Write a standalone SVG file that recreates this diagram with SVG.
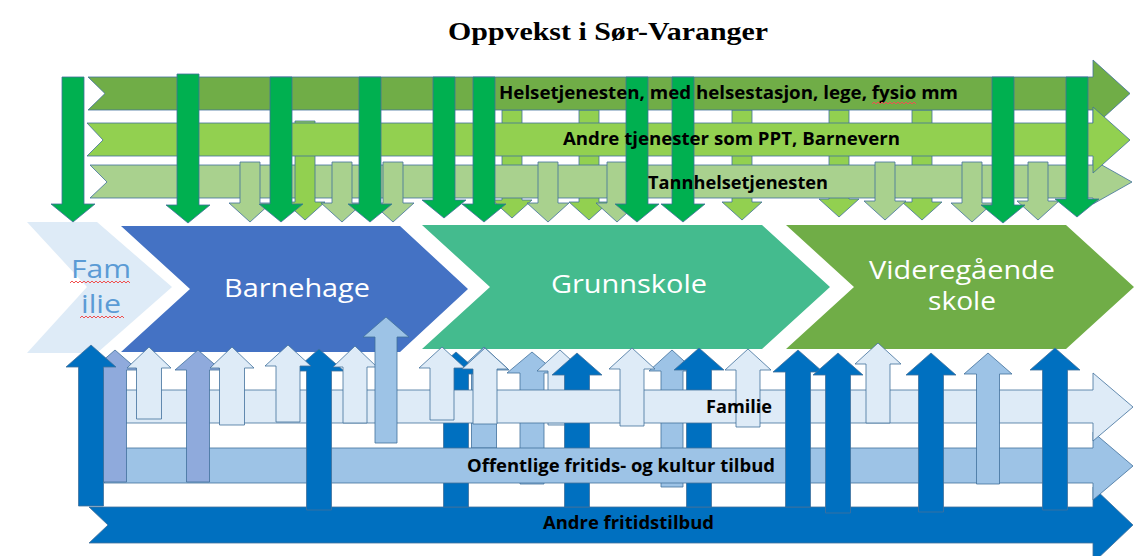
<svg xmlns="http://www.w3.org/2000/svg" width="1145" height="556" viewBox="0 0 1145 556">
<style>
.o{stroke:#41719C;stroke-width:1;stroke-opacity:0.8;stroke-linejoin:miter}
.dg{fill:#00B050}.lg{fill:#92D050}.pg{fill:#A9D18E}.mg{fill:#70AD47}
.db{fill:#0070C0}.lb{fill:#9DC3E6}.pb{fill:#DEEBF7}.lv{fill:#8FAADC}
.lbl{font-family:"Open Sans","Liberation Sans",sans-serif;font-weight:bold;font-size:17px;fill:#000;text-anchor:middle}
.chv{font-family:"Open Sans","Liberation Sans",sans-serif;font-size:25px;fill:#fff;text-anchor:middle}
.sq{fill:none;stroke:#F05050;stroke-width:1}
</style>
<rect width="1145" height="556" fill="#fff"/>
<text x="608" y="40" font-family="'Liberation Serif','Times New Roman',serif" font-weight="bold" font-size="26" text-anchor="middle" textLength="320" lengthAdjust="spacingAndGlyphs">Oppvekst i Sør-Varanger</text>

<!-- stage chevrons -->
<g id="node-familie-stage">
<polygon points="27,222 97,222 172,287 97,353 27,353 87,287" fill="#DEEBF7"/>
<text x="101" y="278" font-family="'Open Sans','Liberation Sans',sans-serif" font-size="25" fill="#5B9BD5" text-anchor="middle" textLength="60" lengthAdjust="spacingAndGlyphs">Fam</text>
<text x="101" y="313" font-family="'Open Sans','Liberation Sans',sans-serif" font-size="25" fill="#5B9BD5" text-anchor="middle" textLength="40" lengthAdjust="spacingAndGlyphs">ilie</text>
<path class="sq" d="M70,283 l2,-2 l2,2 l2,-2 l2,2 l2,-2 l2,2 l2,-2 l2,2 l2,-2 l2,2 l2,-2 l2,2 l2,-2 l2,2 l2,-2 l2,2 l2,-2 l2,2 l2,-2 l2,2 l2,-2 l2,2 l2,-2 l2,2 l2,-2 l2,2 l2,-2 l2,2 l2,-2 l2,2"/>
<path class="sq" d="M80,318 l2,-2 l2,2 l2,-2 l2,2 l2,-2 l2,2 l2,-2 l2,2 l2,-2 l2,2 l2,-2 l2,2 l2,-2 l2,2 l2,-2 l2,2 l2,-2 l2,2 l2,-2 l2,2 l2,-2 l2,2"/>
</g>
<g id="node-barnehage">
<polygon points="121,226 400,226 468,289 400,352 121,352 190,289" fill="#4472C4"/>
<text class="chv" x="297" y="297" textLength="146" lengthAdjust="spacingAndGlyphs">Barnehage</text>
</g>
<g id="node-grunnskole">
<polygon points="422,225 762,225 830,287 762,349 422,349 490,287" fill="#44BB8E"/>
<text class="chv" x="629" y="293" textLength="156" lengthAdjust="spacingAndGlyphs">Grunnskole</text>
</g>
<g id="node-videregaende">
<polygon points="786,225 1066,225 1134,287 1066,349 786,349 854,287" fill="#70AD47"/>
<text class="chv" x="962" y="279" textLength="186" lengthAdjust="spacingAndGlyphs">Videregående</text>
<text class="chv" x="962" y="310" textLength="68" lengthAdjust="spacingAndGlyphs">skole</text>
</g>

<!-- top: light green arrows behind bands -->
<g id="connectors-top-back">
<polygon class="o lg" points="502,110 522,110 522,200 532,200 512,218 492,200 502,200"/>
<polygon class="o lg" points="579,110 599,110 599,202 609,202 589,220 569,202 579,202"/>
<polygon class="o lg" points="732,110 752,110 752,202 762,202 742,220 722,202 732,202"/>
<polygon class="o lg" points="829,110 849,110 849,199 859,199 839,217 819,199 829,199"/>
<polygon class="o lg" points="912,110 932,110 932,202 942,202 922,220 902,202 912,202"/>
</g>

<g id="node-helse">
<polygon class="o mg" points="88,77 1093,77 1093,60 1130,93.5 1093,127 1093,110 88,110 105,93.5"/>
</g>
<g id="node-tannhelse">
<polygon class="o pg" points="90,165 1093,165 1093,160 1132,182 1093,204 1093,198 90,198 107,182"/>
</g>
<g id="connectors-top-mid">
<polygon class="o lg" points="295,121 315,121 315,202 325,202 305,220 285,202 295,202"/>
</g>
<g id="node-andre-tjenester">
<polygon class="o lg" points="87,123 1093,123 1093,107 1130,140 1093,173 1093,156 87,156 103,140"/>
</g>

<g id="connectors-top-front">
<polygon class="o pg" points="240,162 260,162 260,203 271,203 250,222 229,203 240,203"/>
<polygon class="o pg" points="332,162 352,162 352,203 363,203 342,222 321,203 332,203"/>
<polygon class="o pg" points="383,162 403,162 403,203 414,203 393,222 372,203 383,203"/>
<polygon class="o pg" points="538,162 558,162 558,203 569,203 548,222 527,203 538,203"/>
<polygon class="o pg" points="607,162 627,162 627,203 638,203 617,222 596,203 607,203"/>
<polygon class="o pg" points="875,162 895,162 895,201 906,201 885,220 864,201 875,201"/>
<polygon class="o pg" points="962,162 982,162 982,203 993,203 972,222 951,203 962,203"/>
<polygon class="o pg" points="1028,162 1048,162 1048,201 1059,201 1038,220 1017,201 1028,201"/>
<polygon class="o dg" points="62,77 84,77 84,204 95,204 73,222 51,204 62,204"/>
<polygon class="o dg" points="177,74 199,74 199,205 210,205 188,223 166,205 177,205"/>
<polygon class="o dg" points="270,77 292,77 292,204 303,204 281,222 259,204 270,204"/>
<polygon class="o dg" points="359,77 381,77 381,204 392,204 370,222 348,204 359,204"/>
<polygon class="o dg" points="433,77 455,77 455,200 466,200 444,218 422,200 433,200"/>
<polygon class="o dg" points="473,77 495,77 495,204 506,204 484,222 462,204 473,204"/>
<polygon class="o dg" points="626,77 648,77 648,204 659,204 637,222 615,204 626,204"/>
<polygon class="o dg" points="672,77 694,77 694,204 705,204 683,222 661,204 672,204"/>
<polygon class="o dg" points="992,77 1014,77 1014,205 1025,205 1003,223 981,205 992,205"/>
<polygon class="o dg" points="1066,77 1088,77 1088,199 1099,199 1077,217 1055,199 1066,199"/>
</g>

<!-- bottom bands and arrows -->
<g id="node-andre-fritid">
<polygon class="o db" points="89,507 1093,507 1093,487 1133,525 1093,563 1093,543 89,543 108,525"/>
</g>
<g id="connectors-bottom-back">
<polygon class="o lb" points="471.5,448 471.5,370 459,370 484,347 509,370 496.5,370 496.5,448"/>
<polygon class="o lb" points="520,484 520,373 507,373 532,352 557,373 544,373 544,484"/>
<polygon class="o lb" points="661,487 661,371 649,371 672,350 695,371 683,371 683,487"/>
<polygon class="o db" points="443.5,507 443.5,374 431,374 456,352 481,374 468.5,374 468.5,507"/>
<polygon class="o pb" points="548,425 548,371 537,371 560,350 583,371 572,371 572,425"/>
<polygon class="o db" points="564.5,507 564.5,375 552,375 577,353 602,375 589.5,375 589.5,507"/>
<polygon class="o db" points="686.5,507 686.5,370 674,370 699,348 724,370 711.5,370 711.5,507"/>
</g>
<g id="node-offentlige">
<polygon class="o lb" points="104,448 1093,448 1093,432 1133,466 1093,500 1093,483 104,483 120,466"/>
</g>
<g id="node-familie-band">
<polygon class="o pb" points="108,390 1093,390 1093,373 1133,407 1093,441 1093,423 108,423 124,407"/>
</g>
<g id="connectors-bottom-front">
<polygon class="o lv" points="103.5,482 103.5,370 92,370 115,350 138,370 126.5,370 126.5,482"/>
<polygon class="o db" points="78.5,506 78.5,367 66,367 91,345 116,367 103.5,367 103.5,506"/>
<polygon class="o pb" points="136.5,419 136.5,368 127,368 149,347 171,368 161.5,368 161.5,419"/>
<polygon class="o lv" points="186.5,482 186.5,370 175,370 198,350 221,370 209.5,370 209.5,482"/>
<polygon class="o pb" points="219.5,425 219.5,368 210,368 232,347 254,368 244.5,368 244.5,425"/>
<polygon class="o db" points="306.5,510 306.5,371 294,371 319,349 344,371 331.5,371 331.5,510"/>
<polygon class="o pb" points="276,422 276,366 265,366 288,345 311,366 300,366 300,422"/>
<polygon class="o pb" points="343,423 343,367 333,367 355,346 377,367 367,367 367,423"/>
<polygon class="o lb" points="375,443 375,337 363,337 386,317 409,337 397,337 397,443"/>
<polygon class="o pb" points="430,420 430,368 419,368 442,347 465,368 454,368 454,420"/>
<polygon class="o pb" points="473,424 473,369 462,369 485,348 508,369 497,369 497,424"/>
<polygon class="o pb" points="620,426 620,369 609,369 632,348 655,369 644,369 644,426"/>
<polygon class="o pb" points="736,427 736,370 725,370 748,349 771,370 760,370 760,427"/>
<polygon class="o db" points="785.5,507 785.5,372 773,372 798,350 823,372 810.5,372 810.5,507"/>
<polygon class="o db" points="825.5,513 825.5,375 813,375 838,353 863,375 850.5,375 850.5,513"/>
<polygon class="o pb" points="866,423 866,364 855,364 878,343 901,364 890,364 890,423"/>
<polygon class="o db" points="918.5,512 918.5,375 906,375 931,353 956,375 943.5,375 943.5,512"/>
<polygon class="o lb" points="976.5,484 976.5,374 964,374 988,353 1012,374 999.5,374 999.5,484"/>
<polygon class="o db" points="1042.5,510 1042.5,370 1030,370 1055,348 1080,370 1067.5,370 1067.5,510"/>
</g>

<!-- band labels on top -->
<g id="label-helse">
<text class="lbl" x="728.5" y="99" textLength="459" lengthAdjust="spacingAndGlyphs">Helsetjenesten, med helsestasjon, lege, fysio mm</text>
<path class="sq" d="M872,104 l2,-2 l2,2 l2,-2 l2,2 l2,-2 l2,2 l2,-2 l2,2 l2,-2 l2,2 l2,-2 l2,2 l2,-2 l2,2 l2,-2 l2,2 l2,-2 l2,2 l2,-2 l2,2 l2,-2 l2,2"/>
</g>
<g id="label-andre-tjenester">
<text class="lbl" x="731.5" y="145" textLength="337" lengthAdjust="spacingAndGlyphs">Andre tjenester som PPT, Barnevern</text>
</g>
<g id="label-tannhelse">
<text class="lbl" x="738" y="189" textLength="180" lengthAdjust="spacingAndGlyphs">Tannhelsetjenesten</text>
</g>
<g id="label-familie-band">
<text class="lbl" x="739" y="413" textLength="66" lengthAdjust="spacingAndGlyphs">Familie</text>
</g>
<g id="label-offentlige">
<text class="lbl" x="621" y="471.5" textLength="308" lengthAdjust="spacingAndGlyphs">Offentlige fritids- og kultur tilbud</text>
</g>
<g id="label-andre-fritid">
<text class="lbl" x="628.5" y="529" textLength="171" lengthAdjust="spacingAndGlyphs">Andre fritidstilbud</text>
</g>
</svg>
